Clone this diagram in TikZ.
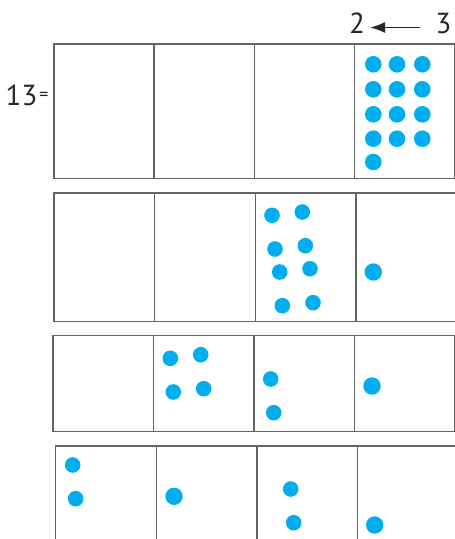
\documentclass[tikz,border=0pt]{standalone}
\usepackage{fontspec}
\setmainfont{PT Sans}
\usetikzlibrary{arrows.meta}
\definecolor{dotblue}{HTML}{00AEEF}
\definecolor{linegray}{HTML}{646464}
\tikzset{
  cell/.style={draw=linegray, line width=1.4pt, inner sep=0pt, anchor=north west},
  dot/.style={fill=dotblue},
  bigtxt/.style={font=\fontsize{29}{31}\selectfont, inner sep=0pt, text=black!85},
}
\begin{document}
\begin{tikzpicture}[x=1pt,y=-1pt]
\useasboundingbox (0,0) rectangle (455,539);
\clip (0,0) rectangle (455,539);
% labels
\node[bigtxt] (thirteen) at (21.5,95) {13};
\node[font=\fontsize{18}{19}\selectfont, inner sep=0pt, text=black!85] (eq) at (44,96) {=};
\node[bigtxt] (two) at (357,23.5) {2};
\node[bigtxt] (three) at (443.5,23.5) {3};
\draw[line width=1.4pt, black!85, -{Latex[length=15pt,width=11pt]}]
  ([xshift=-15pt,yshift=-4pt]three.west) -- ([xshift=5pt,yshift=-4pt]two.east);
% row 1
\foreach \c in {0,1,2,3}
  \node[cell, minimum width=100.1pt, minimum height=134.4pt] (a\c) at (53.3+\c*100.1,43.3) {};
% row 2
\foreach \c in {0,1,2,3}
  \node[cell, minimum width=100.6pt, minimum height=128.4pt] (b\c) at (53.3+\c*100.6,192.3) {};
% row 3
\foreach \c in {0,1,2,3}
  \node[cell, minimum width=100.5pt, minimum height=96pt] (c\c) at (52.3+\c*100.5,335) {};
% row 4
\foreach \c in {0,1,2,3}
  \node[cell, minimum width=100.6pt, minimum height=110pt] (d\c) at (55+\c*100.6,445.3) {};
% dots row 1
\foreach \yy in {64.3,89.3,114.3,138.7}
  \foreach \xx in {373.3,397,422.3}
    \fill[dot] (\xx,\yy) circle[radius=8.3];
\fill[dot] (373.3,162) circle[radius=8.3];
% dots row 2
\foreach \xx/\yy in {272/215.3,302.3/212,275/249,305.3/245.7,279.7/272,310/268.7,282.3/305.7,313/302.7}
  \fill[dot] (\xx,\yy) circle[radius=7.8];
\fill[dot] (373.3,272) circle[radius=8.7];
% dots row 3
\foreach \xx/\yy in {170.3/358.3,200.7/354.7,173.3/392,203.7/388.7,270.7/379,273.7/412.7}
  \fill[dot] (\xx,\yy) circle[radius=7.8];
\fill[dot] (372,386) circle[radius=8.7];
% dots row 4
\foreach \xx/\yy in {72.7/465,75.7/498.7,290.7/489,293.7/522.7}
  \fill[dot] (\xx,\yy) circle[radius=7.8];
\fill[dot] (174,496.3) circle[radius=8.7];
\fill[dot] (374.7,525) circle[radius=8.7];
\end{tikzpicture}
\end{document}
